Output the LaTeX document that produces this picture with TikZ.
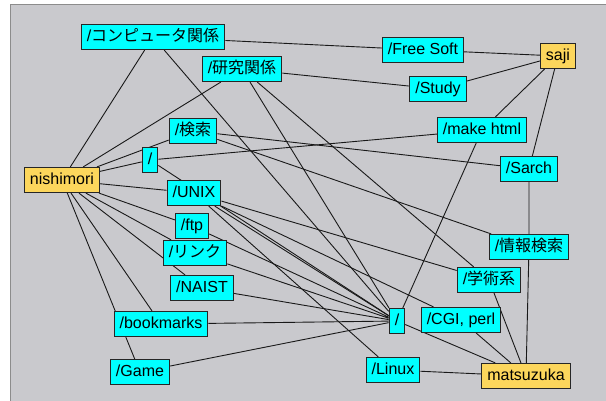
\documentclass[tikz,border=0pt]{standalone}
\usepackage{fontspec}
\setmainfont{Liberation Sans}
\newfontfamily\jp{Noto Sans CJK JP}
\usetikzlibrary{positioning}
\pgfdeclarelayer{panel}
\pgfdeclarelayer{edges}
\pgfsetlayers{panel,edges,main}
\definecolor{panelgray}{RGB}{201,201,205}
\definecolor{dirfill}{RGB}{0,255,255}
\definecolor{userfill}{RGB}{252,214,92}

\begin{document}
\begin{tikzpicture}[x=1pt, y=-1pt, font=\fontsize{16}{18}\selectfont]
		\tikzset{
			dir/.style={draw=black!85, line width=1.2pt, fill=dirfill, minimum height=25pt, inner xsep=5.5pt, inner ysep=0pt, text height=12pt, text depth=3.5pt},
			user/.style={dir, fill=userfill},
			link/.style={draw=black!90, line width=0.9pt}
		}
		\useasboundingbox (0,0) rectangle (606,401);
		\begin{pgfonlayer}{panel}
			\fill[white] (0,0) rectangle (606,401);
			\fill[panelgray] (10,5) rectangle (606,401);
			\draw[black!45, line width=1pt] (10,401) -- (10,5) -- (606,5);
		\end{pgfonlayer}
		
		% users
		\node[user] (nishi) at (62,180) {nishimori};
		\node[user] (saji) at (558,56) {saji};
		\node[user] (matsu) at (526,376) {matsuzuka};
		
		% nishimori's folders
		\node[dir] (comp) at (153,37) {/\jp コンピュータ関係};
		\node[dir] (research) at (242,69) {/\jp 研究関係};
		\node[dir] (search) at (193,131) {/\jp 検索};
		\node[dir] (rootN) at (150,160) {/};
		\node[dir] (unix) at (194,193) {/UNIX};
		\node[dir] (ftp) at (192,226) {/ftp};
		\node[dir] (link) at (195,253) {/\jp リンク};
		\node[dir] (naist) at (202,288) {/NAIST};
		\node[dir] (bkm) at (161,324) {/bookmarks};
		\node[dir] (game) at (140,372) {/Game};
		
		% saji's folders
		\node[dir] (free) at (423,50) {/Free Soft};
		\node[dir] (study) at (438,89) {/Study};
		\node[dir] (html) at (482,130) {/make html};
		\node[dir] (sarch) at (529,169) {/Sarch};
		
		% matsuzuka's folders
		\node[dir] (jsearch) at (529,247) {/\jp 情報検索};
		\node[dir] (academic) at (489,280) {/\jp 学術系};
		\node[dir] (rootM) at (397,321) {/};
		\node[dir] (cgi) at (461,320) {/CGI, perl};
		\node[dir] (linux) at (393,370) {/Linux};
		
		\begin{pgfonlayer}{edges}
			\draw[link] (nishi) -- (comp) (nishi) -- (research) (nishi) -- (search) (nishi) -- (rootN) (nishi) -- (unix)
				(nishi) -- (ftp) (nishi) -- (link) (nishi) -- (naist) (nishi) -- (bkm) (nishi) -- (game);
			\draw[link] (saji) -- (free) (saji) -- (study) (saji) -- (html) (saji) -- (sarch);
			\draw[link] (matsu) -- (jsearch) (matsu) -- (academic) (matsu) -- (cgi) (matsu) -- (rootM) (matsu) -- (linux);
			% shared links
			\draw[link] (comp) -- (free) (comp) -- (rootM);
			\draw[link] (research) -- (study) (research) -- (rootM) (research) -- (academic);
			\draw[link] (search) -- (sarch) (search) -- (jsearch);
			\draw[link] (rootN) -- (html) (rootN) -- (rootM);
			\draw[link] (unix) -- (rootM) (unix) -- (academic) (unix) -- (cgi) (unix) -- (linux);
			\draw[link] (ftp) -- (rootM) (link) -- (rootM) (naist) -- (rootM) (bkm) -- (rootM) (game) -- (rootM);
			\draw[link] (html) -- (rootM) (sarch) -- (jsearch);
		\end{pgfonlayer}
	\end{tikzpicture}
\end{document}
